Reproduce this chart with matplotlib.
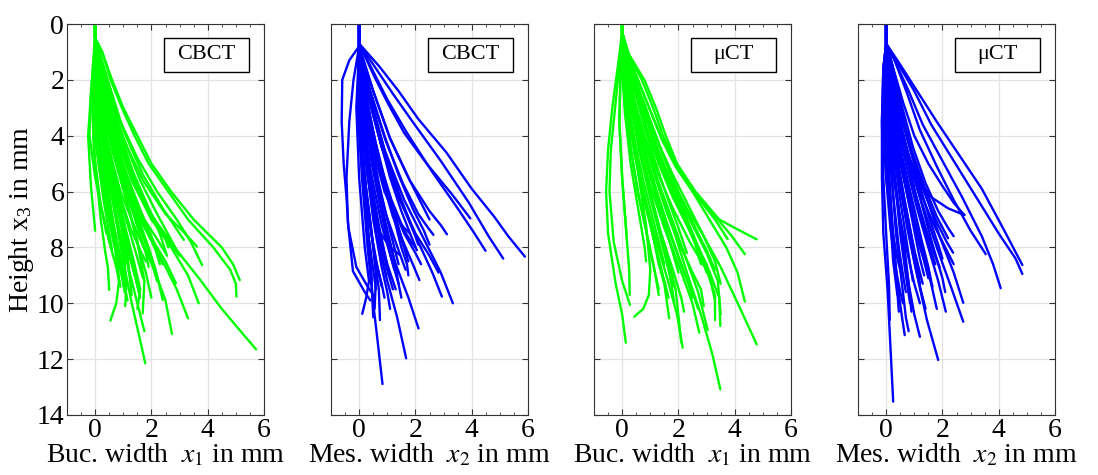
import matplotlib
matplotlib.use("Agg")
import matplotlib.pyplot as plt
from matplotlib.patches import Rectangle

plt.rcParams['font.family'] = ['Liberation Serif', 'DejaVu Serif']
plt.rcParams['mathtext.fontset'] = 'stix'

# each curve: (x values, height values) in mm
cbct_buc = [
    ([0, 0, 0.25, 0.6, 1.0, 1.5, 2.0, 2.7, 3.5, 4.5, 4.9, 5.14], [0, 0.5, 1, 2, 3, 4, 5, 6, 7, 8, 8.6, 9.17]),
    ([0, 0, 0.25, 0.55, 0.95, 1.4, 1.9, 2.6, 3.3, 4.2, 4.8, 5.0, 5.02], [0, 0.5, 1, 2, 3, 4, 5, 6, 7, 8, 8.8, 9.3, 9.76]),
    ([0, 0, 0.2, 0.45, 0.8, 1.2, 1.6, 2.2, 2.9, 3.74, 4.5, 5.0, 5.72], [0, 0.5, 1.2, 2.2, 3.5, 4.6, 5.6, 6.8, 8.1, 9.17, 10.2, 10.8, 11.65]),
    ([0, 0, 0.4, 0.9, 1.5, 2.2, 2.9, 3.4, 3.8], [0, 0.5, 2, 3.5, 4.8, 6.0, 7.0, 7.8, 8.63]),
    ([0, 0, 0.35, 0.8, 1.4, 2.0, 2.7, 3.3, 3.68], [0, 0.5, 2.2, 4, 5.5, 6.8, 8.0, 9.0, 10.0]),
    ([0, 0, 0.25, 0.6, 1.1, 1.7, 2.4, 2.9, 3.3], [0, 0.5, 2.5, 4.2, 5.8, 7.2, 8.5, 9.5, 10.54]),
    ([0, 0, 0.2, 0.5, 0.9, 1.5, 2.1, 2.5, 2.73], [0, 0.5, 2.5, 4.5, 6.0, 7.5, 8.8, 9.9, 11.1]),
    ([0, 0, 0.1, 0.35, 0.7, 1.0, 1.3, 1.55, 1.78], [0, 0.5, 2.5, 4.8, 6.8, 8.5, 10.0, 11.1, 12.15]),
    ([0, 0, 0.15, 0.45, 0.85, 1.2, 1.5, 1.75], [0, 0.5, 3, 5.2, 7.3, 8.8, 10.0, 11.0]),
    ([0, 0, 0.05, 0.3, 0.65, 0.85, 0.75, 0.54], [0, 0.5, 3, 5.5, 7.6, 9.2, 10.0, 10.62]),
    ([0, 0, -0.1, 0.0, 0.2, 0.35, 0.45, 0.5], [0, 0.5, 3, 5, 7, 8.1, 8.7, 9.52]),
    ([0, 0, -0.15, -0.25, -0.15, 0.0], [0, 0.5, 2.5, 4, 5.8, 7.4]),
    ([0, 0, 0.2, 0.6, 1.1, 1.5, 1.75, 1.69], [0, 0.5, 2.5, 4.5, 6.3, 7.8, 9.2, 10.36]),
    ([0, 0, 0.3, 0.8, 1.4, 1.9, 2.2, 2.4], [0, 0.5, 2.5, 4.6, 6.6, 8.0, 9.0, 9.88]),
    ([0, 0, 0.25, 0.65, 1.1, 1.5, 1.8, 2.0], [0, 0.5, 2.5, 4.4, 6.2, 7.8, 8.9, 9.8]),
    ([0, 0, 0.45, 1.0, 1.7, 2.4, 2.8, 3.15], [0, 0.5, 2, 3.8, 5.4, 6.6, 7.2, 7.73]),
    ([0, 0, 0.4, 0.95, 1.7, 2.5, 3.1, 3.62], [0, 0.5, 2, 4.0, 5.6, 6.8, 7.4, 7.97]),
    ([0, 0, 0.3, 0.75, 1.3, 1.9, 2.5, 2.87], [0, 0.5, 2.5, 4.5, 6.2, 7.5, 8.5, 9.28]),
    ([0, 0, 0.25, 0.65, 1.15, 1.6, 1.95, 2.15], [0, 0.5, 2.5, 4.4, 6.0, 7.3, 8.2, 8.8]),
    ([0, 0, 0.1, 0.45, 0.8, 1.05, 1.1, 1.07], [0, 0.5, 3, 5.3, 7.2, 8.5, 9.4, 10.1]),
    ([0, 0, 0.15, 0.45, 0.85, 1.15, 1.3], [0, 0.5, 2.5, 4.8, 6.8, 8.4, 9.7]),
    ([0, 0, 0.3, 0.75, 1.35, 2.0, 2.5, 2.9], [0, 0.5, 2.2, 4.0, 5.7, 7.0, 7.7, 8.1]),
    ([0, 0, 0.35, 0.85, 1.5, 2.2, 2.7, 3.0], [0, 0.5, 2.3, 4.1, 5.9, 7.2, 7.9, 8.3]),
    ([0, 0, 0.1, 0.3, 0.55, 0.75, 0.85], [0, 0.5, 2.5, 4.5, 6.5, 8.0, 9.2]),
    ([0, 0, 0.2, 0.5, 0.95, 1.3, 1.55], [0, 0.5, 3, 5.0, 7.0, 8.5, 9.6]),
    ([0, 0, 0.05, 0.25, 0.55, 0.85, 1.15], [0, 0.5, 3, 5, 6.8, 8.3, 9.9]),
    ([0, 0, 0.3, 0.75, 1.3, 1.85, 2.15, 2.3], [0, 0.5, 2.5, 4.4, 6.1, 7.4, 8.1, 8.6]),
    ([0, 0, -0.05, 0.05, 0.3, 0.5, 0.6], [0, 0.5, 2.5, 4.5, 6.3, 7.5, 8.1]),
    ([0, 0, 0.2, 0.55, 1.1, 1.75, 2.2, 2.5], [0, 0.5, 2.0, 3.9, 5.7, 7.0, 7.7, 8.2]),
    ([0, 0, 0.25, 0.6, 1.1, 1.55, 1.8, 1.9], [0, 0.5, 2.3, 4.2, 6.0, 7.4, 8.2, 8.7]),
    ([0, 0, -0.1, -0.05, 0.2, 0.5, 0.75, 0.9], [0, 0.5, 2.5, 4.5, 6.5, 7.8, 8.7, 9.4]),
    ([0, 0, 0.4, 0.95, 1.6, 2.2, 2.5, 2.6], [0, 0.5, 2.5, 4.4, 6.1, 7.2, 7.7, 8.0]),
    ([0, 0, 0.1, 0.4, 0.8, 1.25, 1.6, 1.8], [0, 0.5, 2, 4, 5.9, 7.3, 8.1, 8.5]),
    ([0, 0, 0.15, 0.45, 0.8, 1.1, 1.3], [0, 0.5, 2.5, 4.3, 6.0, 7.5, 8.6]),
    ([0, 0, -0.15, -0.2, 0.0, 0.25, 0.4], [0, 0.5, 2.5, 4, 5.5, 6.7, 7.5]),
    ([0, 0, 0.3, 0.75, 1.3, 1.95, 2.4, 2.7], [0, 0.5, 2.2, 4.0, 5.6, 6.8, 7.4, 7.8]),
    ([0, 0, 0.2, 0.55, 1.0, 1.4, 1.6, 1.5], [0, 0.5, 2.8, 5.0, 7.0, 8.6, 9.5, 10.2]),
    ([0, 0, 0.1, 0.35, 0.7, 1.0, 1.15, 1.2], [0, 0.5, 2.2, 4.2, 6.0, 7.4, 8.2, 8.9]),
    ([0, 0, 0.1, 0.3, 0.6, 0.9, 1.2, 1.4], [0, 0.5, 2, 3.8, 5.6, 7.0, 8.2, 9.0]),
    ([0, 0, 0.2, 0.5, 0.9, 1.3, 1.7, 2.0, 2.2], [0, 0.5, 2, 3.6, 5.2, 6.5, 7.6, 8.5, 9.2]),
    ([0, 0, 0.15, 0.4, 0.75, 1.1, 1.45, 1.7], [0, 0.5, 2.2, 4.0, 5.6, 7.0, 8.2, 9.1]),
    ([0, 0, 0.05, 0.2, 0.45, 0.7, 0.95, 1.1], [0, 0.5, 2.5, 4.3, 6.0, 7.4, 8.6, 9.5]),
    ([0, 0, 0.35, 0.8, 1.35, 1.9, 2.3, 2.55], [0, 0.5, 2.0, 3.7, 5.3, 6.6, 7.5, 8.3]),
    ([0, 0, -0.05, 0.1, 0.35, 0.6, 0.8, 0.95], [0, 0.5, 2.5, 4.2, 5.9, 7.2, 8.2, 8.8]),
    ([0, 0, 0.25, 0.65, 1.1, 1.6, 2.0, 2.3], [0, 0.5, 2.0, 3.8, 5.4, 6.7, 7.6, 8.4]),
    ([0, 0, 0.1, 0.35, 0.7, 1.05, 1.4, 1.6], [0, 0.5, 2.4, 4.4, 6.2, 7.7, 8.9, 9.8]),
    ([0, 0, 0.3, 0.7, 1.2, 1.7, 2.1, 2.4], [0, 0.5, 2.3, 4.1, 5.6, 6.9, 7.9, 8.6]),
    ([0, 0, 0.0, 0.15, 0.4, 0.65, 0.9, 1.05], [0, 0.5, 2.8, 4.8, 6.5, 7.8, 8.8, 9.6]),
]

cbct_mes = [
    ([0, 0, 0.7, 1.4, 2.1, 3.1, 4.0, 4.8, 5.3, 5.89], [0, 0.7, 1.5, 2.4, 3.4, 4.6, 5.9, 6.9, 7.6, 8.33]),
    ([0, 0, 0.6, 1.2, 1.9, 2.9, 3.9, 4.6, 5.12], [0, 0.7, 1.6, 2.5, 3.5, 4.9, 6.4, 7.6, 8.4]),
    ([0, 0, 0.5, 1.0, 1.7, 2.6, 3.5, 4.1, 4.49], [0, 0.7, 1.7, 2.7, 3.9, 5.3, 6.6, 7.5, 8.12]),
    ([0, 0, 0.5, 1.0, 1.6, 2.4, 3.3, 3.95], [0, 0.7, 1.8, 2.8, 3.9, 5.0, 6.1, 6.96]),
    ([0, 0, 0.35, 0.9, 1.6, 2.4, 2.9, 3.33], [0, 0.8, 2.5, 4.5, 6.3, 7.9, 8.9, 10.0]),
    ([0, 0, 0.35, 0.9, 1.5, 2.1, 2.6, 2.94], [0, 0.8, 2.5, 4.5, 6.3, 7.8, 8.9, 9.76]),
    ([0, 0, 0.5, 1.1, 1.8, 2.5, 2.9, 3.12], [0, 0.8, 2.4, 4.1, 5.6, 6.7, 7.2, 7.53]),
    ([0, 0, 0.4, 0.95, 1.55, 2.1, 2.45, 2.64], [0, 0.8, 2.5, 4.2, 5.7, 6.8, 7.3, 7.55]),
    ([0, 0, 0.3, 0.8, 1.4, 2.0, 2.5, 2.82], [0, 0.8, 2.5, 4.4, 6.2, 7.5, 8.3, 8.9]),
    ([0, 0, 0.2, 0.65, 1.2, 1.65, 1.95, 2.14], [0, 0.8, 3, 5, 6.9, 8.0, 8.7, 9.17]),
    ([0, 0, 0.15, 0.45, 0.85, 1.3, 1.75, 2.11], [0, 0.8, 3, 5, 7, 8.6, 9.8, 10.9]),
    ([0, 0, 0.1, 0.3, 0.6, 1.0, 1.35, 1.67], [0, 0.8, 3, 5, 7.5, 9.2, 10.5, 11.97]),
    ([0, 0, -0.05, 0.1, 0.3, 0.5, 0.65, 0.83], [0, 0.8, 3, 5.5, 8, 10, 11.3, 12.89]),
    ([0, 0, -0.1, 0.0, 0.2, 0.35, 0.25, 0.11], [0, 0.8, 3, 5.5, 8, 9.2, 9.8, 10.38]),
    ([0, 0, 0.0, 0.2, 0.5, 0.7, 0.74], [0, 0.8, 3, 5.5, 8, 9.5, 10.6]),
    ([0, 0, 0.1, 0.3, 0.7, 1.1, 1.45], [0, 0.8, 3, 5.5, 7.4, 8.0, 8.27]),
    ([0, 0, -0.35, -0.6, -0.62, -0.55, -0.45, -0.38, -0.1, 0.3, 0.5], [0, 0.8, 1.3, 2.0, 3.5, 5.0, 6.2, 7.3, 8.7, 9.4, 9.7]),
    ([0, 0, -0.2, -0.35, -0.45, -0.4, -0.22, 0.2, 0.4], [0, 0.8, 2.0, 3.5, 5.5, 7.1, 8.85, 9.6, 9.9]),
    ([0, 0, 0.15, 0.5, 0.9, 1.3, 1.6, 1.8], [0, 0.8, 2.5, 4.5, 6.0, 6.9, 7.3, 7.5]),
    ([0, 0, 0.2, 0.6, 1.1, 1.6, 2.0, 2.2], [0, 0.8, 2.6, 4.6, 6.3, 7.5, 8.2, 8.6]),
    ([0, 0, 0.05, 0.3, 0.65, 1.0, 1.2, 1.3], [0, 0.8, 3, 5.3, 7.3, 8.6, 9.2, 9.5]),
    ([0, 0, 0.0, 0.15, 0.35, 0.45, 0.5], [0, 0.8, 3, 5.5, 7.8, 9.3, 10.5]),
    ([0, 0, 0.1, 0.35, 0.7, 0.95, 1.05], [0, 0.8, 3, 5.2, 7.2, 8.4, 9.0]),
    ([0, 0, 0.25, 0.65, 1.15, 1.6, 1.85, 2.0], [0, 0.8, 2.8, 4.7, 6.3, 7.4, 7.8, 8.0]),
    ([0, 0, 0.1, 0.4, 0.8, 1.2, 1.4, 1.5], [0, 0.8, 3, 5.2, 7.2, 8.6, 9.3, 9.8]),
    ([0, 0, 0.3, 0.8, 1.3, 1.75, 2.0, 2.1], [0, 0.8, 2.5, 4.4, 5.9, 7.0, 7.6, 7.9]),
    ([0, 0, -0.05, 0.1, 0.35, 0.6, 0.8, 0.9], [0, 0.8, 3, 5, 7, 8.5, 9.3, 9.8]),
    ([0, 0, 0.25, 0.7, 1.2, 1.5, 1.7, 1.75], [0, 0.8, 3, 5.0, 6.8, 8.0, 8.6, 9.0]),
    ([0, 0, 0.5, 1.1, 1.7, 2.2, 2.5], [0, 0.8, 2.4, 4.1, 5.4, 6.4, 7.0]),
    ([0, 0, 0.0, 0.2, 0.45, 0.6, 0.55], [0, 0.8, 3, 5.5, 7.5, 9, 10.2]),
    ([0, 0, 0.15, 0.5, 0.95, 1.4, 1.65], [0, 0.8, 3, 5.0, 6.8, 8.1, 8.8]),
    ([0, 0, 0.05, 0.25, 0.5, 0.8, 1.0, 1.1], [0, 0.8, 3, 5, 7, 8.7, 9.6, 10.2]),
    ([0, 0, 0.1, 0.3, 0.55, 0.8, 1.05, 1.25], [0, 0.8, 2.2, 3.8, 5.4, 6.8, 8.0, 8.8]),
    ([0, 0, 0.05, 0.2, 0.4, 0.6, 0.8, 0.95], [0, 0.8, 2.4, 4.0, 5.6, 7.0, 8.2, 9.0]),
    ([0, 0, 0.2, 0.5, 0.85, 1.2, 1.5, 1.7], [0, 0.8, 2.3, 3.9, 5.4, 6.7, 7.7, 8.3]),
    ([0, 0, 0.0, 0.1, 0.25, 0.45, 0.65, 0.8], [0, 0.8, 2.5, 4.2, 6.0, 7.6, 8.7, 9.4]),
    ([0, 0, 0.3, 0.7, 1.1, 1.5, 1.85, 2.05], [0, 0.8, 2.4, 4.0, 5.5, 6.7, 7.6, 8.1]),
    ([0, 0, 0.15, 0.4, 0.7, 1.0, 1.25, 1.4], [0, 0.8, 2.5, 4.1, 5.7, 7.0, 8.0, 8.6]),
    ([0, 0, -0.05, 0.05, 0.2, 0.35, 0.5, 0.6], [0, 0.8, 2.6, 4.4, 6.2, 7.7, 8.8, 9.5]),
    ([0, 0, 0.25, 0.6, 1.0, 1.35, 1.6, 1.75], [0, 0.8, 2.6, 4.3, 5.9, 7.1, 8.0, 8.5]),
    ([0, 0, 0.1, 0.25, 0.5, 0.75, 1.0, 1.2], [0, 0.8, 2.8, 4.6, 6.3, 7.7, 8.8, 9.5]),
    ([0, 0, 0.4, 0.9, 1.4, 1.9, 2.3, 2.5], [0, 0.8, 2.4, 4.0, 5.4, 6.6, 7.4, 7.9]),
    ([0, 0, 0.0, 0.1, 0.2, 0.3, 0.4, 0.45], [0, 0.8, 2.5, 4.3, 6.0, 7.5, 8.6, 9.2]),
    ([0, 0, 0.2, 0.45, 0.8, 1.1, 1.3, 1.4], [0, 0.8, 2.9, 4.8, 6.5, 7.8, 8.7, 9.3]),
]

muct_buc = [
    ([0, 0, 0.25, 0.79, 1.2, 1.55, 1.95, 2.6, 3.45, 4.0, 4.78], [0, 0.3, 1.1, 2, 3, 4, 5, 6, 7, 7.3, 7.71]),
    ([0, 0, 0.22, 0.7, 1.1, 1.45, 1.9, 2.6, 3.4, 3.9, 4.36], [0, 0.3, 1.1, 2, 3, 4, 5, 6, 7, 7.6, 8.24]),
    ([0, 0, 0.2, 0.6, 1.0, 1.4, 1.9, 2.5, 3.1, 3.7, 4.1, 4.36], [0, 0.3, 1.1, 2.1, 3.1, 4.1, 5.1, 6, 7, 8, 8.9, 9.94]),
    ([0, 0, 0.15, 0.45, 0.8, 1.2, 1.7, 2.3, 2.9, 3.5, 4.2, 4.78], [0, 0.3, 1.2, 2.2, 3.3, 4.4, 5.5, 6.6, 7.6, 8.7, 10.2, 11.47]),
    ([0, 0, 0.1, 0.35, 0.7, 1.05, 1.45, 1.9, 2.3, 2.8, 3.2, 3.49], [0, 0.3, 1.3, 2.5, 3.8, 5.0, 6.3, 7.6, 8.9, 10.4, 11.8, 13.08]),
    ([0, 0, 0.15, 0.45, 0.85, 1.3, 1.8, 2.4, 3.0, 3.45, 3.49], [0, 0.3, 1.2, 2.4, 3.7, 5.0, 6.2, 7.4, 8.6, 9.8, 10.81]),
    ([0, 0, 0.1, 0.4, 0.8, 1.2, 1.7, 2.2, 2.7, 3.04], [0, 0.3, 1.3, 2.7, 4.1, 5.4, 6.8, 8.2, 9.6, 10.96]),
    ([0, 0, 0.12, 0.4, 0.8, 1.25, 1.8, 2.4, 3.0, 3.3, 3.3], [0, 0.3, 1.3, 2.6, 4.0, 5.3, 6.6, 7.8, 8.8, 9.7, 10.6]),
    ([0, 0, 0.1, 0.3, 0.6, 1.0, 1.5, 2.0, 2.5, 2.74], [0, 0.3, 1.3, 2.7, 4.3, 5.8, 7.3, 8.6, 10.0, 11.05]),
    ([0, 0, 0.05, 0.2, 0.45, 0.8, 1.2, 1.6, 1.95, 2.15], [0, 0.3, 1.4, 3, 4.6, 6.2, 7.7, 9.1, 10.4, 11.59]),
    ([0, 0, 0.1, 0.3, 0.6, 1.0, 1.5, 1.9, 2.1], [0, 0.3, 1.3, 2.8, 4.5, 6.2, 7.9, 9.5, 11.4]),
    ([0, 0, 0.05, 0.2, 0.45, 0.8, 1.2, 1.5, 1.67], [0, 0.3, 1.4, 3, 4.7, 6.4, 8.0, 9.3, 10.54]),
    ([0, 0, 0.0, 0.2, 0.55, 0.85, 1.0, 0.95, 0.75, 0.43], [0, 0.3, 1.5, 3.2, 5.2, 7.2, 8.8, 9.7, 10.2, 10.48]),
    ([0, 0, -0.15, -0.35, -0.5, -0.57, -0.5, -0.23, 0.0, 0.13], [0, 0.3, 1.5, 3, 4.5, 6, 7.5, 9.3, 10.4, 11.41]),
    ([0, 0, -0.1, -0.25, -0.4, -0.45, -0.3, 0.0, 0.28], [0, 0.3, 1.5, 3, 4.5, 6, 7.8, 9.2, 10.06]),
    ([0, 0, -0.05, -0.1, 0.0, 0.1, 0.16], [0, 0.3, 1.5, 3.5, 5.5, 6.8, 7.6]),
    ([0, 0, -0.05, -0.1, 0.0, 0.15, 0.25, 0.27], [0, 0.3, 1.5, 3.5, 5.5, 7.5, 8.8, 9.7]),
    ([0, 0, 0.2, 0.6, 1.0, 1.4, 1.9, 2.6, 3.3, 3.75], [0, 0.3, 1.1, 2.1, 3.1, 4.1, 5.1, 6.1, 7.0, 7.7]),
    ([0, 0, 0.15, 0.5, 0.9, 1.3, 1.8, 2.3, 2.8, 3.1, 3.3], [0, 0.3, 1.2, 2.3, 3.5, 4.7, 5.9, 7.0, 8.2, 9.0, 9.9]),
    ([0, 0, 0.1, 0.35, 0.65, 1.0, 1.4, 1.8, 2.2, 2.5, 2.7], [0, 0.3, 1.3, 2.6, 3.9, 5.2, 6.6, 7.8, 8.9, 9.6, 10.2]),
    ([0, 0, 0.1, 0.3, 0.6, 0.95, 1.3, 1.6, 1.8], [0, 0.3, 1.3, 2.8, 4.4, 6.0, 7.4, 8.6, 9.4]),
    ([0, 0, 0.05, 0.25, 0.5, 0.8, 1.1, 1.3, 1.5], [0, 0.3, 1.4, 3, 4.6, 6.2, 7.6, 8.6, 9.3]),
    ([0, 0, 0.15, 0.45, 0.85, 1.3, 1.8, 2.3, 2.7, 2.9], [0, 0.3, 1.2, 2.4, 3.7, 4.9, 6.1, 7.2, 8.0, 8.5]),
    ([0, 0, 0.2, 0.55, 0.95, 1.35, 1.8, 2.35, 2.9, 3.3, 3.5], [0, 0.3, 1.1, 2.2, 3.3, 4.4, 5.4, 6.5, 7.6, 8.5, 9.3]),
    ([0, 0, 0.05, 0.25, 0.5, 0.8, 1.1, 1.35, 1.55, 1.65], [0, 0.3, 1.4, 3, 4.6, 6.2, 7.6, 8.6, 9.4, 9.8]),
    ([0, 0, 0.1, 0.35, 0.7, 1.1, 1.55, 2.0, 2.35, 2.5], [0, 0.3, 1.3, 2.7, 4.2, 5.6, 7.0, 8.3, 9.3, 9.8]),
    ([0, 0, 0.12, 0.4, 0.75, 1.15, 1.6, 2.1, 2.5, 2.8, 2.9], [0, 0.3, 1.3, 2.6, 4.0, 5.4, 6.8, 8.0, 8.9, 9.5, 10.1]),
    ([0, 0, 0.0, 0.1, 0.3, 0.6, 0.8, 0.85], [0, 0.3, 1.5, 3.2, 5, 6.8, 8.0, 8.5]),
    ([0, 0, 0.18, 0.5, 0.9, 1.3, 1.8, 2.4, 3.0, 3.4, 3.5], [0, 0.3, 1.2, 2.3, 3.4, 4.6, 5.8, 7.0, 8.2, 9.2, 10.4]),
    ([0, 0, 0.08, 0.3, 0.6, 0.95, 1.35, 1.8, 2.1, 2.2], [0, 0.3, 1.3, 2.8, 4.3, 5.9, 7.4, 8.8, 9.8, 10.3]),
    ([0, 0, 0.2, 0.55, 1.0, 1.45, 1.95, 2.5, 3.0, 3.3], [0, 0.3, 1.2, 2.3, 3.5, 4.7, 5.9, 7.1, 8.1, 8.8]),
    ([0, 0, 0.1, 0.3, 0.6, 0.95, 1.3, 1.6, 1.85], [0, 0.3, 1.3, 2.6, 4.0, 5.3, 6.5, 7.5, 8.3]),
    ([0, 0, 0.15, 0.45, 0.8, 1.2, 1.6, 2.0, 2.3], [0, 0.3, 1.2, 2.4, 3.7, 5.0, 6.2, 7.3, 8.2]),
    ([0, 0, 0.05, 0.2, 0.45, 0.75, 1.05, 1.3, 1.5], [0, 0.3, 1.4, 2.8, 4.2, 5.6, 6.8, 7.8, 8.6]),
    ([0, 0, 0.2, 0.5, 0.9, 1.3, 1.75, 2.2, 2.6, 2.8], [0, 0.3, 1.2, 2.3, 3.5, 4.7, 5.8, 6.9, 7.9, 8.6]),
    ([0, 0, 0.0, 0.1, 0.3, 0.55, 0.85, 1.1, 1.3], [0, 0.3, 1.5, 3.0, 4.5, 6.0, 7.4, 8.6, 9.5]),
    ([0, 0, 0.12, 0.35, 0.65, 1.0, 1.4, 1.75, 2.0], [0, 0.3, 1.3, 2.6, 4.0, 5.4, 6.8, 8.0, 8.9]),
    ([0, 0, 0.18, 0.5, 0.9, 1.35, 1.8, 2.3, 2.7, 3.0], [0, 0.3, 1.2, 2.3, 3.5, 4.7, 5.9, 7.0, 8.0, 8.9]),
    ([0, 0, 0.05, 0.15, 0.35, 0.6, 0.9, 1.15, 1.3], [0, 0.3, 1.5, 3.1, 4.7, 6.2, 7.6, 8.8, 9.7]),
    ([0, 0, 0.1, 0.3, 0.55, 0.9, 1.25, 1.55, 1.75, 1.85], [0, 0.3, 1.3, 2.7, 4.1, 5.6, 7.0, 8.3, 9.3, 10.0]),
]

muct_mes = [
    ([0, 0, 0.4, 1.1, 1.8, 2.6, 3.4, 4.2, 4.84], [0, 0.7, 1.3, 2.4, 3.5, 4.7, 5.9, 7.4, 8.63]),
    ([0, 0, 0.35, 1.0, 1.6, 2.4, 3.2, 4.0, 4.6, 4.84], [0, 0.7, 1.3, 2.4, 3.6, 4.9, 6.2, 7.5, 8.4, 8.95]),
    ([0, 0, 0.3, 0.8, 1.3, 2.0, 2.7, 3.4, 3.8, 4.07], [0, 0.7, 1.3, 2.4, 3.6, 4.9, 6.2, 7.6, 8.6, 9.46]),
    ([0, 0, 0.3, 0.75, 1.2, 1.8, 2.4, 3.0, 3.54], [0, 0.7, 1.3, 2.5, 3.8, 5.1, 6.3, 7.4, 8.24]),
    ([0, 0, 0.2, 0.6, 1.0, 1.5, 2.0, 2.4, 2.78], [0, 0.7, 1.4, 2.8, 4.0, 5.0, 5.8, 6.4, 6.84]),
    ([0, 0, 0.15, 0.45, 0.9, 1.4, 1.9, 2.4, 2.74], [0, 0.7, 1.5, 3.0, 4.6, 6.1, 7.6, 8.9, 9.98]),
    ([0, 0, 0.1, 0.4, 0.8, 1.3, 1.8, 2.3, 2.74], [0, 0.7, 1.5, 3.2, 4.9, 6.5, 8.0, 9.4, 10.66]),
    ([0, 0, 0.1, 0.35, 0.7, 1.1, 1.5, 1.85, 2.12], [0, 0.7, 1.5, 3.2, 5.0, 6.6, 8.0, 9.2, 10.3]),
    ([0, 0, 0.2, 0.5, 0.9, 1.35, 1.8, 2.2], [0, 0.7, 1.5, 3.0, 4.5, 5.8, 6.9, 7.67]),
    ([0, 0, 0.15, 0.45, 0.85, 1.3, 1.8, 2.15, 2.38], [0, 0.7, 1.5, 3.0, 4.5, 5.9, 7.1, 7.8, 8.19]),
    ([0, 0, 0.05, 0.2, 0.45, 0.75, 1.1, 1.45, 1.85], [0, 0.7, 1.6, 3.5, 5.5, 7.3, 9.0, 10.6, 12.03]),
    ([0, 0, 0.0, 0.1, 0.3, 0.55, 0.8, 1.0, 1.2], [0, 0.7, 1.6, 3.5, 5.5, 7.5, 9.3, 10.4, 11.2]),
    ([0, 0, -0.05, 0.0, 0.1, 0.25, 0.4, 0.55, 0.66], [0, 0.7, 1.6, 3.5, 5.5, 7.5, 9.3, 10.4, 11.14]),
    ([0, 0, -0.1, -0.15, -0.15, -0.1, 0.05, 0.15, 0.25], [0, 0.7, 1.6, 3.5, 5.5, 7.5, 9.5, 11.5, 13.52]),
    ([0, 0, -0.1, -0.15, -0.1, 0.0, 0.1, 0.13], [0, 0.7, 1.6, 3.5, 5.5, 7.5, 9.3, 10.6]),
    ([0, 0, 0.05, 0.25, 0.55, 0.9, 1.3, 1.6, 1.8], [0, 0.7, 1.6, 3.3, 5.0, 6.6, 8.1, 9.3, 10.2]),
    ([0, 0, 0.0, 0.15, 0.4, 0.7, 1.0, 1.25, 1.4], [0, 0.7, 1.6, 3.4, 5.2, 6.9, 8.5, 9.6, 10.2]),
    ([0, 0, 0.1, 0.4, 0.8, 1.2, 1.7, 2.1, 2.4], [0, 0.7, 1.5, 3.1, 4.7, 6.0, 7.2, 8.0, 8.6]),
    ([0, 0, 0.1, 0.35, 0.7, 1.1, 1.6, 2.2, 2.78], [0, 0.7, 1.5, 3.0, 4.4, 5.5, 6.2, 6.6, 6.84]),
    ([0, 0, -0.05, 0.05, 0.25, 0.5, 0.8, 1.0, 1.2], [0, 0.7, 1.6, 3.5, 5.4, 7.0, 8.4, 9.3, 10.0]),
    ([0, 0, 0.0, 0.1, 0.3, 0.5, 0.7, 0.85], [0, 0.7, 1.6, 3.5, 5.5, 7.5, 9.0, 10.0]),
    ([0, 0, -0.05, -0.1, 0.0, 0.15, 0.35, 0.5, 0.6], [0, 0.7, 1.6, 3.5, 5.5, 7.3, 8.8, 9.6, 10.0]),
    ([0, 0, 0.05, 0.2, 0.5, 0.85, 1.2, 1.5, 1.65], [0, 0.7, 1.6, 3.3, 5.0, 6.6, 8.0, 8.9, 9.4]),
    ([0, 0, 0.1, 0.35, 0.7, 1.05, 1.4, 1.7, 1.9], [0, 0.7, 1.5, 3.1, 4.7, 6.1, 7.3, 8.2, 8.7]),
    ([0, 0, 0.05, 0.2, 0.45, 0.75, 1.0, 1.2, 1.3], [0, 0.7, 1.6, 3.4, 5.2, 6.8, 8.1, 8.9, 9.3]),
    ([0, 0, -0.1, -0.1, 0.0, 0.2, 0.4, 0.55], [0, 0.7, 1.6, 3.5, 5.5, 7.3, 8.4, 9.0]),
    ([0, 0, 0.1, 0.3, 0.6, 0.95, 1.25, 1.5, 1.6], [0, 0.7, 1.5, 3.2, 4.9, 6.4, 7.7, 8.7, 9.2]),
    ([0, 0, 0.2, 0.55, 0.95, 1.4, 1.85, 2.2, 2.4], [0, 0.7, 1.4, 2.9, 4.4, 5.7, 6.7, 7.3, 7.6]),
    ([0, 0, 0.0, 0.05, 0.2, 0.35, 0.55, 0.7, 0.8], [0, 0.7, 1.6, 3.5, 5.5, 7.5, 9.2, 10.5, 11.0]),
    ([0, 0, 0.1, 0.4, 0.8, 1.25, 1.65, 2.0, 2.1], [0, 0.7, 1.5, 3.1, 4.8, 6.4, 7.9, 9.1, 9.6]),
    ([0, 0, 0.05, 0.15, 0.3, 0.5, 0.7, 0.85, 0.95], [0, 0.7, 1.6, 3.2, 4.8, 6.3, 7.6, 8.6, 9.2]),
    ([0, 0, 0.1, 0.25, 0.5, 0.75, 1.0, 1.2, 1.35], [0, 0.7, 1.5, 3.0, 4.6, 6.1, 7.4, 8.4, 9.0]),
    ([0, 0, 0.0, 0.05, 0.15, 0.3, 0.45, 0.6, 0.7], [0, 0.7, 1.6, 3.3, 5.0, 6.6, 8.0, 9.0, 9.6]),
    ([0, 0, 0.15, 0.4, 0.7, 1.0, 1.3, 1.55, 1.75], [0, 0.7, 1.5, 3.0, 4.5, 5.9, 7.1, 8.0, 8.6]),
    ([0, 0, -0.05, 0.0, 0.1, 0.2, 0.3, 0.4, 0.45], [0, 0.7, 1.6, 3.4, 5.2, 7.0, 8.5, 9.6, 10.3]),
    ([0, 0, 0.05, 0.2, 0.4, 0.65, 0.9, 1.1, 1.2], [0, 0.7, 1.6, 3.2, 4.8, 6.3, 7.6, 8.6, 9.3]),
    ([0, 0, 0.1, 0.3, 0.55, 0.85, 1.1, 1.35, 1.5], [0, 0.7, 1.5, 3.1, 4.7, 6.2, 7.5, 8.5, 9.1]),
    ([0, 0, 0.2, 0.5, 0.85, 1.2, 1.55, 1.85, 2.0], [0, 0.7, 1.4, 2.9, 4.4, 5.8, 7.0, 7.9, 8.4]),
    ([0, 0, -0.05, -0.05, 0.05, 0.15, 0.25, 0.35, 0.4], [0, 0.7, 1.6, 3.4, 5.3, 7.0, 8.5, 9.3, 9.7]),
    ([0, 0, 0.0, 0.1, 0.25, 0.45, 0.65, 0.8, 0.9], [0, 0.7, 1.6, 3.3, 5.0, 6.6, 8.0, 9.3, 10.3]),
]

panels = [
    (cbct_buc, '#00ff00', 'CBCT', 'Buc. width  $x_1$ in mm'),
    (cbct_mes, '#0000ff', 'CBCT', 'Mes. width  $x_2$ in mm'),
    (muct_buc, '#00ff00', 'μCT', 'Buc. width  $x_1$ in mm'),
    (muct_mes, '#0000ff', 'μCT', 'Mes. width  $x_2$ in mm'),
]

fig = plt.figure(figsize=(10.98, 4.75), dpi=100)
lefts = [67, 331, 594, 858]
for i, (curves, col, tag, xlab) in enumerate(panels):
    ax = fig.add_axes([lefts[i] / 1098, 60 / 475, 197 / 1098, 391 / 475])
    for xs, ys in curves:
        ax.plot(xs, ys, color=col, lw=1.7, solid_capstyle='round', solid_joinstyle='round')
    ax.set_xlim(-1, 6)
    ax.set_ylim(14, 0)
    ax.set_xticks([0, 2, 4, 6])
    ax.set_xticks([-0.5, 0.5, 1, 1.5, 2.5, 3, 3.5, 4.5, 5, 5.5], minor=True)
    ax.set_yticks(range(0, 15, 2))
    ax.grid(True, color='#e3e3e3', lw=0.9)
    ax.set_axisbelow(True)
    ax.tick_params(direction='in', top=True, right=True, labelsize=20,
                   color='#333333', length=4, pad=2)
    ax.tick_params(which='minor', direction='in', top=True, length=2.5, color='#333333')
    for s in ax.spines.values():
        s.set_color('#333333')
    if i > 0:
        ax.set_yticklabels([])
    else:
        ax.set_ylabel(r'Height $\mathregular{x_3}$ in mm', fontsize=20, labelpad=0)
    ax.set_xlabel(xlab, fontsize=20, labelpad=-1)
    ax.add_patch(Rectangle((0.49, 0.877), 0.435, 0.087, transform=ax.transAxes,
                           fc='white', ec='black', lw=1, zorder=5))
    ax.text(0.707, 0.921, tag, transform=ax.transAxes, ha='center', va='center',
            fontsize=16, zorder=6)

fig.savefig('out.png', dpi=100)
